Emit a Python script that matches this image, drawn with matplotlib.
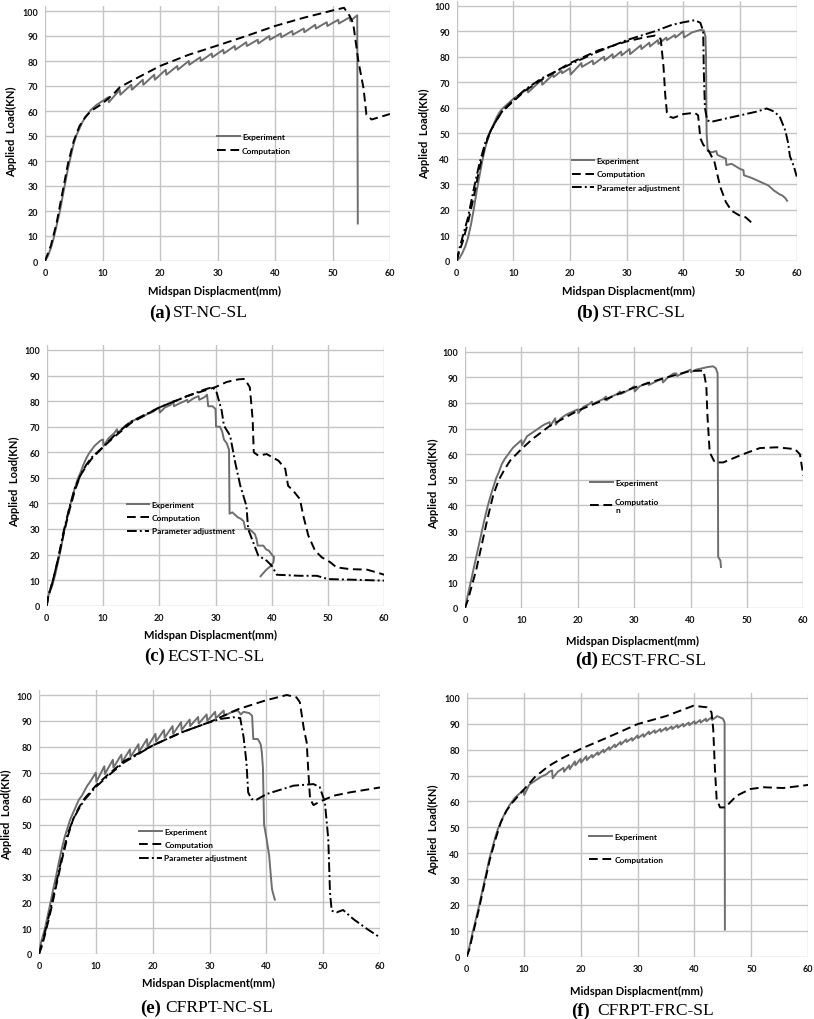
import matplotlib
matplotlib.use('Agg')
import matplotlib.pyplot as plt

# Load-displacement curves (x: midspan displacement mm, y: load kN)
a_exp = [(0, 0), (0.5, 2), (1, 5), (1.5, 9), (2, 14), (2.5, 19), (3, 25), (3.5, 31), (4, 37), (4.5, 42),
         (5, 47), (5.5, 50.5), (6, 53), (6.5, 55.5), (7, 57.5), (7.5, 59), (8, 60.5), (8.5, 61.5), (9, 62.5),
         (10, 64), (11, 65.5), (11.1, 63.5), (13, 68.5), (13.1, 66.5), (15, 70.5), (15.1, 68.5), (17, 72.5),
         (17.1, 70.5), (19, 74.5), (19.1, 72.5), (21, 76.5), (21.1, 74.5), (23, 78), (23.1, 76.5), (25, 80),
         (25.1, 78.5), (27, 81.5), (27.1, 80), (29, 83), (29.1, 81.5), (31, 84.5), (31.1, 83), (33, 86),
         (33.1, 84.5), (35, 87.5), (35.1, 86), (37, 88.5), (37.1, 87), (39, 90), (39.1, 88.5), (41, 91),
         (41.1, 89.5), (43, 92), (43.1, 90.5), (45, 93), (45.1, 91.5), (47, 94.5), (47.1, 93), (49, 95.5),
         (49.1, 94), (51, 96.5), (51.1, 95), (53, 97.5), (53.1, 96), (54.3, 98.3), (54.4, 15)]
a_com = [(0, 0), (0.5, 3), (1, 6), (2, 15), (3, 27), (4, 39), (5, 48), (6, 54), (7, 57.5), (8, 60), (9, 61.5),
         (10, 63), (11, 65), (12, 67), (13, 69.5), (15, 72), (20, 78), (25, 82.5), (30, 86.2), (35, 90), (40, 94),
         (45, 97.3), (50, 100.2), (52, 101.3), (53, 98), (53.6, 95), (54.5, 80), (55.4, 69), (55.9, 58.5),
         (56.8, 56.6), (60, 58.8)]

b_exp = [(0, 0), (0.5, 1), (1, 3), (1.5, 5.5), (2, 9), (2.5, 14), (3, 20), (3.5, 27), (4, 33), (4.5, 39),
         (5, 44), (5.5, 48), (6, 51), (6.5, 53.5), (7, 56), (7.5, 58), (8, 59.5), (9, 61.5), (10, 63.5), (11, 65),
         (12.5, 67.5), (12.6, 66), (15, 71), (15.1, 69), (17, 73), (17.1, 72), (18.5, 74.5), (18.6, 73.5),
         (20, 75.5), (20.1, 73), (22, 77.5), (22.1, 76), (24, 78.5), (24.1, 77), (26, 80), (26.1, 78.5),
         (27.5, 81), (27.6, 79.5), (29, 82), (29.1, 80.5), (30.5, 83), (30.6, 81), (32.5, 84.5), (32.6, 83),
         (34, 85.5), (34.1, 84), (35.5, 86.5), (35.6, 85), (37, 87.5), (37.1, 86.5), (38.5, 88.5), (38.6, 87.5),
         (40, 90), (40.1, 87.5), (41.5, 89.5), (43, 90.5), (43.6, 90.3), (43.9, 88), (44, 80), (44.1, 50),
         (44.3, 43), (45, 42.5), (45.8, 43), (46, 41.5), (47.5, 40), (47.6, 37.5), (48.5, 38), (50, 36),
         (50.6, 35.5), (50.7, 33.5), (52, 32.5), (53, 31.5), (54, 30.5), (55, 29.5), (56, 27.5), (57, 26),
         (57.5, 25.5), (58, 24.5), (58.3, 23.5)]
b_com = [(0, 0), (0.5, 4), (1, 7), (2, 15), (3, 25), (4, 36), (5, 45), (6, 51), (7, 55), (8, 58.5), (10, 62.5),
         (12, 66.5), (15, 71), (20, 77.5), (25, 82.5), (30, 86), (33, 87.5), (35, 88.3), (36, 87), (36.5, 76),
         (36.8, 65), (37.1, 58), (37.6, 56.5), (38.2, 56), (40, 57.5), (42, 58), (42.6, 57), (43, 48),
         (43.5, 45.5), (44.5, 43), (45.5, 38.6), (46.5, 29), (47.5, 23), (48.5, 19.6), (50, 17.6), (51, 17),
         (52, 15)]
b_par = [(0, 0), (0.5, 5), (1, 9), (2, 17), (3, 28), (4, 38), (5, 46), (6, 51), (7, 55), (8, 58.5), (10, 63),
         (12, 67), (15, 71.5), (20, 77), (25, 82), (30, 86.5), (35, 90), (38, 92.5), (40, 93.5), (42, 94.3),
         (43, 93.3), (43.5, 90), (43.6, 75), (43.8, 60), (44.2, 55), (45, 54.5), (46, 55), (50, 57), (53, 58.5),
         (54.7, 59.7), (56, 58.5), (57, 56.5), (58, 51), (58.5, 46), (58.8, 41), (59.5, 37), (60, 33)]

c_exp = [(0, 0), (0.3, 4), (0.5, 5), (1, 8), (1.5, 12), (2, 17), (2.5, 22), (3, 28), (3.5, 33), (4, 38),
         (4.5, 42), (5, 46), (5.5, 49.5), (6, 52), (6.5, 55), (7, 57.5), (7.5, 59.5), (8, 61), (8.5, 62.5),
         (9, 63.5), (9.5, 64.5), (10, 65), (10.1, 62.5), (11, 65.5), (12, 67.5), (12.5, 69), (12.6, 67.5),
         (14, 70.5), (15, 72), (16, 73), (17, 74), (18, 75), (19, 76), (19.5, 77), (20, 77.5), (20.1, 75.5),
         (21, 77.5), (22, 78.5), (22.5, 80), (22.6, 78), (23.5, 79), (25, 80.5), (25.1, 79.5), (26, 81), (27, 82),
         (27.1, 80.5), (28, 81.5), (28.5, 82.5), (28.7, 78), (29.5, 78), (29.7, 77.5), (30, 77), (30.1, 70),
         (30.8, 70), (31.2, 68), (31.5, 65), (32, 63.5), (32.4, 61), (32.5, 36), (33, 36.5), (33.5, 35.5),
         (34, 34.5), (34.5, 34), (35, 33), (35.3, 30), (36, 30), (36.5, 29), (37, 28), (37.3, 26), (37.5, 23.5),
         (38.5, 23.5), (39, 22), (39.5, 21.5), (40, 20), (40.4, 19), (40.3, 17), (39.8, 15.5), (39, 14),
         (38, 11.5)]
c_com = [(0, 0), (0.3, 4), (1, 9), (2, 18), (3, 28), (4, 37), (5, 45), (6, 51), (7, 54.5), (8, 57.5), (10, 62),
         (12, 66), (15, 71.5), (20, 77.5), (25, 82), (30, 85.5), (32, 87.5), (34, 88.5), (35.2, 88.7),
         (36.1, 85.4), (36.6, 73), (36.8, 60), (37.6, 58.7), (39.1, 59.3), (41.2, 56.7), (42.4, 53.5),
         (42.9, 46.9), (43.8, 45), (45, 41.7), (45.6, 35.2), (46.5, 27.4), (47.7, 21.5), (48.9, 18.9),
         (50.4, 17), (51.5, 15), (53.9, 14.3), (56.9, 14.1), (58.7, 13), (60, 12.1)]
c_par = [(0, 0), (0.3, 4), (1, 9), (2, 18), (3, 29), (4, 38), (5, 46), (6, 51), (7, 55), (8, 58), (10, 62),
         (12, 66.5), (15, 72), (20, 77.5), (25, 82), (28, 84.5), (29.5, 85.5), (30.2, 83.4), (31.1, 76.3),
         (31.5, 70.4), (32.6, 66.5), (33.5, 56), (34.4, 47), (35.5, 39), (35.8, 30), (36.7, 24.8), (37.6, 19.6),
         (39.1, 17.6), (40, 15.6), (40.9, 12.1), (45, 11.7), (48, 11.7), (50, 10.4), (53.9, 10.2), (60, 9.8)]

d_exp = [(0, 0), (0.5, 5), (1, 10), (1.5, 15), (2, 20), (2.5, 25), (3, 30), (3.5, 35), (4, 39.5), (4.5, 43.5),
         (5, 47), (5.5, 50.5), (6, 53), (6.5, 56), (7, 58), (7.5, 59.5), (8, 61), (8.5, 62.5), (9, 63.5),
         (9.5, 64.5), (10, 65.5), (10.1, 63.5), (11, 67), (12, 68.5), (13, 70), (14, 71.5), (15, 72.5),
         (15.1, 71), (16, 74), (16.1, 71.5), (17, 74), (18, 75.5), (19, 76.5), (20, 77.5), (20.1, 76), (21, 78.5),
         (22, 79.5), (22.5, 80.5), (22.6, 79.5), (23.5, 80.5), (24.5, 81.5), (25, 82.5), (25.1, 81), (26, 82.5),
         (27, 83.5), (27.5, 84.5), (27.6, 83.5), (29, 85), (30, 86.5), (30.1, 84.5), (31, 86.5), (32, 87.5),
         (32.5, 88), (32.6, 87), (34, 88.5), (35, 89.5), (35.1, 88), (36, 90), (37, 91.5), (37.5, 91.5),
         (37.6, 90.5), (39, 92), (40, 93), (40.1, 92), (41, 93), (42, 93.5), (43, 94), (44, 94.3), (44.5, 93.5),
         (44.8, 91.5), (44.9, 20), (45.3, 18.5), (45.4, 16)]
d_com = [(0, 0), (0.5, 3), (1, 7), (2, 15), (3, 25), (4, 35), (5, 44), (6, 50), (7, 54), (8, 57.5), (10, 62),
         (12, 66), (15, 71), (20, 77), (25, 81.5), (30, 86), (35, 89.5), (40, 92.5), (42.3, 92.6), (42.8, 86.7),
         (43, 75), (43.4, 60.7), (44.3, 56.8), (45.8, 56.8), (49.3, 60), (52.3, 62.4), (55.3, 62.7), (58.5, 62),
         (59.4, 60), (60, 51.6)]

e_exp = [(0, 0), (0.3, 4), (0.5, 5.5), (1, 9.5), (1.5, 14.5), (2, 19.5), (2.5, 25), (3, 30), (3.5, 35.5),
         (4, 40.5), (4.5, 45), (5, 48.5), (5.5, 52), (6, 54.5), (6.5, 57), (7, 59.5), (7.5, 61), (8, 63),
         (8.5, 65), (9, 66.5), (10, 70), (10.1, 66.5), (11.5, 72.5), (11.6, 69.5), (13, 75), (13.1, 72),
         (14.5, 77), (14.6, 74), (16, 79), (16.1, 76), (17.5, 81), (17.6, 78), (19, 83), (19.1, 80), (20.5, 85),
         (20.6, 82), (22, 86.5), (22.1, 83.5), (23.5, 88), (23.6, 85), (25, 89.5), (25.1, 86.5), (26.5, 90.5),
         (26.6, 88), (28, 91.5), (28.1, 89), (29.5, 92.5), (29.6, 90), (31, 93.5), (31.1, 91), (32.5, 94),
         (32.6, 92), (34, 93.5), (35, 94), (35.5, 92.5), (36, 93.5), (37, 93), (37.5, 92), (37.7, 83),
         (38.5, 83), (39, 81), (39.2, 78), (39.4, 72), (39.6, 50), (40, 45), (40.5, 38), (40.8, 30), (41, 25),
         (41.3, 22.5), (41.5, 21)]
e_com = [(0, 0), (0.5, 3), (1, 7), (2, 16), (3, 26), (4, 36), (5, 45), (6, 52), (7, 56.5), (8, 60), (10, 65),
         (12, 69), (15, 74.5), (20, 80.5), (25, 85.5), (30, 89.5), (35, 94.5), (40, 98), (43.6, 100),
         (45.3, 99.1), (45.9, 97.2), (46.6, 86.9), (47.1, 81.7), (47.4, 70.1), (47.7, 59.8), (48.3, 57.5),
         (49.4, 58.8), (51.8, 61.1), (54.7, 62.4), (60, 64.3)]
e_par = [(0, 0), (0.5, 4), (1, 8), (2, 17), (3, 27), (4, 37), (5, 46), (6, 52), (7, 56), (8, 59.5), (10, 64.5),
         (12, 68.5), (15, 74), (20, 80.5), (25, 85.5), (30, 89.5), (32, 90.8), (34.2, 91.4), (35.4, 91.1),
         (36, 83.7), (36.5, 74), (36.8, 62.4), (37.4, 59.8), (38.3, 59.6), (40.1, 61.8), (44.8, 65), (48.3, 65.6),
         (49.4, 64.4), (50.3, 58.6), (50.9, 44.4), (51.2, 23.8), (51.5, 16.7), (52.4, 16.1), (53.5, 17),
         (55.3, 13.5), (57.7, 9.7), (60, 6.4)]

f_exp = [(0, 0), (0.5, 4), (1, 9), (1.5, 13.5), (2, 18), (2.5, 23), (3, 28), (3.5, 33), (4, 38), (4.5, 42),
         (5, 46), (5.5, 49.5), (6, 52), (6.5, 54.5), (7, 56.5), (7.5, 58.5), (8, 60), (8.5, 61.5), (9, 62.5),
         (9.5, 63.5), (10, 64.5), (10.1, 62.5), (11, 66.5), (12, 68), (13, 69.5), (14, 70.5), (14.5, 71.5),
         (15, 72), (15.1, 69), (16, 71.5), (17, 73), (17.1, 71.5), (18, 74), (18.1, 72.5), (19, 75.5), (19.1, 74),
         (20, 76.5), (20.1, 75), (21, 77.5), (21.1, 76), (22, 78), (22.1, 77), (23, 79), (23.1, 78), (24, 80),
         (24.1, 79), (25, 81), (25.1, 80), (26, 82), (26.1, 81), (27, 83), (27.1, 82), (28, 84), (28.1, 83),
         (29, 84.5), (29.1, 83.5), (30, 85.5), (30.1, 84.5), (31, 86), (31.1, 85), (32, 87), (32.1, 86),
         (33, 87.5), (33.1, 86.5), (34, 88), (34.1, 87), (35, 88.5), (35.1, 87.5), (36, 89), (36.1, 88),
         (37, 89.5), (37.1, 88.5), (38, 90), (38.1, 89), (39, 90.5), (39.1, 89.5), (40, 91), (40.1, 90),
         (41, 91.5), (41.1, 90.5), (42, 92), (42.1, 91), (43, 92.5), (43.1, 91.5), (44, 93), (44.5, 92.5),
         (45, 92), (45.3, 90.5), (45.35, 10.5)]
f_com = [(0, 0), (0.5, 3), (1, 8), (2, 17), (3, 27), (4, 37), (5, 45), (6, 52), (7, 56.5), (8, 59.5),
         (10, 64.5), (12, 69.5), (14, 73), (15, 74.5), (17, 77), (20, 80.3), (25, 85), (30, 89.9), (35, 93),
         (39.8, 97), (42.2, 96.4), (43, 94.5), (43.3, 88), (43.6, 72.5), (43.9, 61), (44.5, 57.7), (45.4, 57.7),
         (46.3, 59.7), (47.4, 62.2), (49.8, 64.8), (52.1, 65.5), (55.6, 65.2), (60, 66.4)]

x_ticks = [0, 10, 20, 30, 40, 50, 60]
y_ticks = [0, 10, 20, 30, 40, 50, 60, 70, 80, 90, 100]

W, H = 814, 1020
fig = plt.figure(figsize=(W / 100, H / 100), dpi=100)
plt.rcParams['font.family'] = ['Lato', 'DejaVu Sans']

EXP_COLOR = '#6e6e6e'
DASHED = (0, (4.5, 2.4))
DASHDOT = (0, (5.0, 1.6, 1.0, 1.6))


def fx(px):
    return px / W


def fy(py):
    return 1 - py / H


def panel(geom, curves, leg, ylab, xlab, cap, letter, name):
    x0, x60, y0, y100 = geom
    ytop = 102
    h = (y0 - y100) * ytop / 100
    ax = fig.add_axes([fx(x0), fy(y0), (x60 - x0) / W, h / H])
    ax.set_xlim(0, 60)
    ax.set_ylim(0, ytop)
    ax.set_xticks(x_ticks)
    ax.set_yticks(y_ticks)
    ax.grid(True, color='#c4c4c4', lw=1.0)
    ax.set_axisbelow(True)
    for s in ax.spines.values():
        s.set_visible(False)
    ax.tick_params(length=0, labelsize=6.5, pad=5, colors='#111111')
    for t in ax.get_xticklabels() + ax.get_yticklabels():
        t.set_fontweight('bold')

    styles = {'Experiment': dict(color=EXP_COLOR, lw=1.4, ls='-'),
              'Computation': dict(color='black', lw=1.4, ls=DASHED),
              'Computatio\nn': dict(color='black', lw=1.4, ls=DASHED),
              'Parameter adjustment': dict(color='black', lw=1.4, ls=DASHDOT)}
    for label, pts in curves:
        xs, ys = zip(*pts)
        ax.plot(xs, ys, label=label, **styles[label])

    lx, ly, spacing = leg
    ax.legend(loc='center left', bbox_to_anchor=(fx(lx), fy(ly)), bbox_transform=fig.transFigure,
              frameon=False, prop={'size': 6, 'weight': 'bold'}, handlelength=2.7, handletextpad=0.3,
              labelspacing=spacing, borderpad=0, borderaxespad=0)

    fig.text(fx(ylab[0]), fy(ylab[1]), 'Applied  Load(KN)', rotation=90, ha='center', va='center',
             fontsize=8, fontweight='bold')
    fig.text(fx(xlab[0]), fy(xlab[1]), 'Midspan Displacment(mm)', ha='center', va='center',
             fontsize=8, fontweight='bold')
    fig.text(fx(cap[0]), fy(cap[2]), letter, ha='right', va='center', family='Liberation Serif',
             fontsize=13.5, fontweight='bold')
    fig.text(fx(cap[1]), fy(cap[2]), name, ha='left', va='center', family='Liberation Serif',
             fontsize=12.5)
    return ax


panel((45, 390, 262, 12), [('Experiment', a_exp), ('Computation', a_com)],
      (217, 144.5, 0.85), (11.7, 132), (214.5, 291), (171, 173, 313.4), '(a)', 'ST-NC-SL')
panel((456.7, 796.7, 261.7, 6.7), [('Experiment', b_exp), ('Computation', b_com), ('Parameter adjustment', b_par)],
      (571.7, 175, 0.75), (425, 134), (629, 291), (599, 602, 313.4), '(b)', 'ST-FRC-SL')
panel((46.7, 384.3, 606.7, 351), [('Experiment', c_exp), ('Computation', c_com), ('Parameter adjustment', c_par)],
      (126.7, 518.7, 0.75), (15, 481.7), (210.5, 635.8), (165, 167, 656.7), '(c)', 'ECST-NC-SL')
panel((465, 803.3, 609, 352.7), [('Experiment', d_exp), ('Computatio\nn', d_com)],
      (590, 497, 1.4), (433.3, 483.3), (633, 641), (598, 600, 660.8), '(d)', 'ECST-FRC-SL')
panel((39, 380, 955, 696), [('Experiment', e_exp), ('Computation', e_com), ('Parameter adjustment', e_par)],
      (139.3, 845.7, 0.75), (6.7, 815), (208, 983), (161, 165, 1008), '(e)', 'CFRPT-NC-SL')
panel((466.7, 808.3, 957.7, 699), [('Experiment', f_exp), ('Computation', f_com)],
      (589.3, 849, 1.9), (433.3, 830), (636.5, 991), (590, 597, 1011), '(f)', 'CFRPT-FRC-SL')

fig.savefig('out.png', dpi=100)
